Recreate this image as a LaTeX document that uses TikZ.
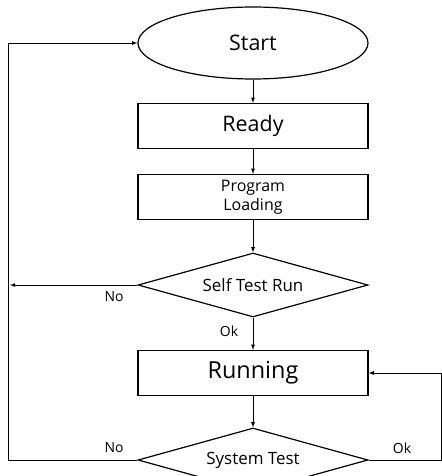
\documentclass[tikz,border=0pt]{standalone}
\usepackage{fontspec}
\setmainfont{Open Sans}
\usetikzlibrary{shapes.geometric}

\begin{document}
\begin{tikzpicture}[x=1bp,y=-1bp]
       \tikzstyle{box} = [rectangle, draw, line width=1.2bp, minimum width=230bp, minimum height=45bp, inner sep=0pt];
       \tikzstyle{oval} = [ellipse, draw, line width=1.2bp, minimum width=230bp, minimum height=72bp, inner sep=0pt];
       \tikzstyle{test} = [diamond, draw, line width=1.2bp, aspect=3.6, minimum width=230bp, minimum height=64bp, inner sep=0pt];
       \tikzstyle{link} = [line width=0.8bp, -latex];
       \tikzstyle{tag} = [font=\fontsize{14}{16}\selectfont];
       \useasboundingbox (0,0) rectangle (442,476);
       \clip (0,0) rectangle (442,476);

       \node[oval, font=\fontsize{21.5}{24}\selectfont](start) at (253,43) {Start};
       \node[box, font=\fontsize{21.5}{24}\selectfont](ready) at (253,126) {Ready};
       \node[box, align=center, font=\fontsize{16}{19}\selectfont](loading) at (253,197) {Program\\Loading};
       \node[test, font=\fontsize{17}{20}\selectfont](selftest) at (253,285) {Self Test Run};
       \node[box, font=\fontsize{23.5}{26}\selectfont](running) at (253,373) {Running};
       \node[test, font=\fontsize{17}{20}\selectfont](systest) at (253,460) {System Test};

       \coordinate(leftrail) at (8,0);
       \coordinate(rightrail) at (441.5,0);

       \draw[link] (start) -- (ready);
       \draw[link] (ready) -- (loading);
       \draw[link] (loading) -- (selftest);
       \draw[link] (selftest) -- (running);
       \draw[link] (running) -- (systest);

       % back to start
       \draw[link] (systest.west) -- (systest.west -| leftrail) |- (start.west);
       \draw[link, shorten >=2bp] (selftest.west) -- (selftest.west -| leftrail);
       % back to running
       \draw[link] (systest.east) -- (systest.east -| rightrail) |- (running.east);

       \node[tag](selfno) at (114,297) {No};
       \node[tag](selfok) at (229,331) {Ok};
       \node[tag](sysno) at (114,448) {No};
       \node[tag](sysok) at (402,448) {Ok};
     \end{tikzpicture}
\end{document}
